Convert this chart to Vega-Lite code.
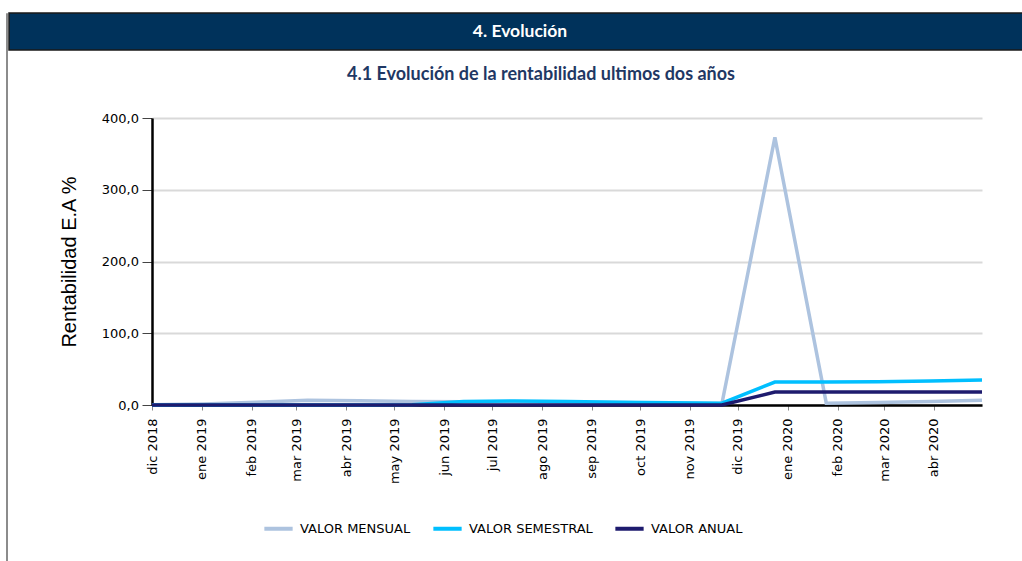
{
  "$schema": "https://vega.github.io/schema/vega-lite/v6.json",
  "padding": {"left": 5, "top": 12, "right": 0, "bottom": 0},
  "background": "white",
  "config": {"view": {"stroke": null}, "font": "DejaVu Sans"},
  "spacing": 0,
  "hconcat": [
    {
      "width": 1,
      "height": 548,
      "view": {"stroke": "#8C8C8C", "strokeWidth": 1},
      "data": {"values": []},
      "mark": "point"
    },
    {
      "spacing": 15,
      "vconcat": [
        {
          "width": 1016,
          "height": 37,
          "view": {"fill": "#00325B", "stroke": "#1A1A1A", "strokeWidth": 1.5},
          "data": {"values": [{"t": "4. Evolución"}]},
          "mark": {"type": "text", "color": "white", "font": "Lato", "fontWeight": "bold", "fontSize": 17.5, "dx": 3},
          "encoding": {"text": {"field": "t"}}
        },
        {
          "spacing": 0,
          "hconcat": [
            {
              "width": 50,
              "height": 10,
              "data": {"values": []},
              "mark": "point"
            },
            {
              "width": 830,
              "height": 287,
              "title": {"text": "4.1 Evolución  de la rentabilidad ultimos dos años", "font": "Lato", "fontSize": 18, "fontWeight": "bold", "color": "#1F3864", "offset": 28, "anchor": "middle", "dx": -26},
              "data": {"values": [
                {"fecha": "2018-12-01", "serie": "VALOR MENSUAL", "valor": 0.3},
                {"fecha": "2019-01-02", "serie": "VALOR MENSUAL", "valor": 1.5},
                {"fecha": "2019-02-04", "serie": "VALOR MENSUAL", "valor": 4},
                {"fecha": "2019-03-08", "serie": "VALOR MENSUAL", "valor": 6.5},
                {"fecha": "2019-04-09", "serie": "VALOR MENSUAL", "valor": 6},
                {"fecha": "2019-05-12", "serie": "VALOR MENSUAL", "valor": 5},
                {"fecha": "2019-06-13", "serie": "VALOR MENSUAL", "valor": 4.5},
                {"fecha": "2019-07-15", "serie": "VALOR MENSUAL", "valor": 4.5},
                {"fecha": "2019-08-17", "serie": "VALOR MENSUAL", "valor": 4},
                {"fecha": "2019-09-18", "serie": "VALOR MENSUAL", "valor": 3.5},
                {"fecha": "2019-10-20", "serie": "VALOR MENSUAL", "valor": 2.5},
                {"fecha": "2019-11-21", "serie": "VALOR MENSUAL", "valor": 2},
                {"fecha": "2019-12-24", "serie": "VALOR MENSUAL", "valor": 373},
                {"fecha": "2020-01-25", "serie": "VALOR MENSUAL", "valor": 2.5},
                {"fecha": "2020-02-26", "serie": "VALOR MENSUAL", "valor": 3.5},
                {"fecha": "2020-03-30", "serie": "VALOR MENSUAL", "valor": 5},
                {"fecha": "2020-05-01", "serie": "VALOR MENSUAL", "valor": 6.5},
                {"fecha": "2018-12-01", "serie": "VALOR SEMESTRAL", "valor": 0},
                {"fecha": "2019-01-02", "serie": "VALOR SEMESTRAL", "valor": 0},
                {"fecha": "2019-02-04", "serie": "VALOR SEMESTRAL", "valor": 0},
                {"fecha": "2019-03-08", "serie": "VALOR SEMESTRAL", "valor": 0},
                {"fecha": "2019-04-09", "serie": "VALOR SEMESTRAL", "valor": 0},
                {"fecha": "2019-05-12", "serie": "VALOR SEMESTRAL", "valor": 0.3},
                {"fecha": "2019-06-13", "serie": "VALOR SEMESTRAL", "valor": 5},
                {"fecha": "2019-07-15", "serie": "VALOR SEMESTRAL", "valor": 5.5},
                {"fecha": "2019-08-17", "serie": "VALOR SEMESTRAL", "valor": 5},
                {"fecha": "2019-09-18", "serie": "VALOR SEMESTRAL", "valor": 4},
                {"fecha": "2019-10-20", "serie": "VALOR SEMESTRAL", "valor": 3},
                {"fecha": "2019-11-21", "serie": "VALOR SEMESTRAL", "valor": 2.5},
                {"fecha": "2019-12-24", "serie": "VALOR SEMESTRAL", "valor": 32},
                {"fecha": "2020-01-25", "serie": "VALOR SEMESTRAL", "valor": 32},
                {"fecha": "2020-02-26", "serie": "VALOR SEMESTRAL", "valor": 32.5},
                {"fecha": "2020-03-30", "serie": "VALOR SEMESTRAL", "valor": 33.5},
                {"fecha": "2020-05-01", "serie": "VALOR SEMESTRAL", "valor": 35},
                {"fecha": "2018-12-01", "serie": "VALOR ANUAL", "valor": 0},
                {"fecha": "2019-01-02", "serie": "VALOR ANUAL", "valor": 0},
                {"fecha": "2019-02-04", "serie": "VALOR ANUAL", "valor": 0},
                {"fecha": "2019-03-08", "serie": "VALOR ANUAL", "valor": 0},
                {"fecha": "2019-04-09", "serie": "VALOR ANUAL", "valor": 0},
                {"fecha": "2019-05-12", "serie": "VALOR ANUAL", "valor": 0},
                {"fecha": "2019-06-13", "serie": "VALOR ANUAL", "valor": 0},
                {"fecha": "2019-07-15", "serie": "VALOR ANUAL", "valor": 0},
                {"fecha": "2019-08-17", "serie": "VALOR ANUAL", "valor": 0},
                {"fecha": "2019-09-18", "serie": "VALOR ANUAL", "valor": 0},
                {"fecha": "2019-10-20", "serie": "VALOR ANUAL", "valor": 0},
                {"fecha": "2019-11-21", "serie": "VALOR ANUAL", "valor": 0},
                {"fecha": "2019-12-24", "serie": "VALOR ANUAL", "valor": 18},
                {"fecha": "2020-01-25", "serie": "VALOR ANUAL", "valor": 18},
                {"fecha": "2020-02-26", "serie": "VALOR ANUAL", "valor": 18},
                {"fecha": "2020-03-30", "serie": "VALOR ANUAL", "valor": 18},
                {"fecha": "2020-05-01", "serie": "VALOR ANUAL", "valor": 18}
              ]},
              "mark": {"type": "line", "strokeWidth": 3.5},
              "encoding": {
                "x": {
                  "field": "fecha",
                  "type": "temporal",
                  "scale": {"type": "utc", "domain": [{"year": 2018, "month": 12, "date": 1, "utc": true}, {"year": 2020, "month": 5, "date": 1, "utc": true}]},
                  "axis": {
                    "title": null,
                    "grid": false,
                    "values": [
                      {"year": 2018, "month": 12, "date": 1, "utc": true},
                      {"year": 2019, "month": 1, "date": 1, "utc": true},
                      {"year": 2019, "month": 2, "date": 1, "utc": true},
                      {"year": 2019, "month": 3, "date": 1, "utc": true},
                      {"year": 2019, "month": 4, "date": 1, "utc": true},
                      {"year": 2019, "month": 5, "date": 1, "utc": true},
                      {"year": 2019, "month": 6, "date": 1, "utc": true},
                      {"year": 2019, "month": 7, "date": 1, "utc": true},
                      {"year": 2019, "month": 8, "date": 1, "utc": true},
                      {"year": 2019, "month": 9, "date": 1, "utc": true},
                      {"year": 2019, "month": 10, "date": 1, "utc": true},
                      {"year": 2019, "month": 11, "date": 1, "utc": true},
                      {"year": 2019, "month": 12, "date": 1, "utc": true},
                      {"year": 2020, "month": 1, "date": 1, "utc": true},
                      {"year": 2020, "month": 2, "date": 1, "utc": true},
                      {"year": 2020, "month": 3, "date": 1, "utc": true},
                      {"year": 2020, "month": 4, "date": 1, "utc": true}
                    ],
                    "labelExpr": "['ene','feb','mar','abr','may','jun','jul','ago','sep','oct','nov','dic'][utcmonth(datum.value)] + ' ' + utcyear(datum.value)",
                    "labelAngle": -90,
                    "labelFont": "DejaVu Sans",
                    "labelFontSize": 13,
                    "labelColor": "#000000",
                    "labelPadding": 8,
                    "labelOverlap": false,
                    "tickColor": "#888888",
                    "tickSize": 5,
                    "domainColor": "#000000",
                    "domainWidth": 2.5
                  }
                },
                "y": {
                  "field": "valor",
                  "type": "quantitative",
                  "scale": {"domain": [0, 400], "nice": false},
                  "axis": {
                    "values": [0, 100, 200, 300, 400],
                    "labelExpr": "replace(format(datum.value, '.1f'), '.', ',')",
                    "title": "Rentabilidad E.A %",
                    "titleFont": "Liberation Sans",
                    "titleFontSize": 20,
                    "titleFontWeight": "normal",
                    "titleColor": "#000000",
                    "titlePadding": 22,
                    "labelFont": "DejaVu Sans",
                    "labelFontSize": 13,
                    "labelColor": "#000000",
                    "labelPadding": 3.5,
                    "tickSize": 10,
                    "tickColor": "#444444",
                    "domainColor": "#000000",
                    "domainWidth": 2.5,
                    "gridColor": "#D9D9D9",
                    "gridWidth": 2
                  }
                },
                "color": {
                  "field": "serie",
                  "type": "nominal",
                  "scale": {"domain": ["VALOR MENSUAL", "VALOR SEMESTRAL", "VALOR ANUAL"], "range": ["#ADC3DF", "#00BFFF", "#1E1B6E"]},
                  "legend": {
                    "title": null,
                    "orient": "none",
                    "legendX": 256,
                    "legendY": 499,
                    "direction": "horizontal",
                    "symbolType": "stroke",
                    "symbolSize": 800,
                    "symbolStrokeWidth": 4,
                    "labelFont": "DejaVu Sans",
                    "labelFontSize": 13,
                    "labelColor": "#000000",
                    "labelOffset": 5,
                    "columnPadding": 14
                  }
                }
              }
            }
          ]
        }
      ]
    }
  ]
}
